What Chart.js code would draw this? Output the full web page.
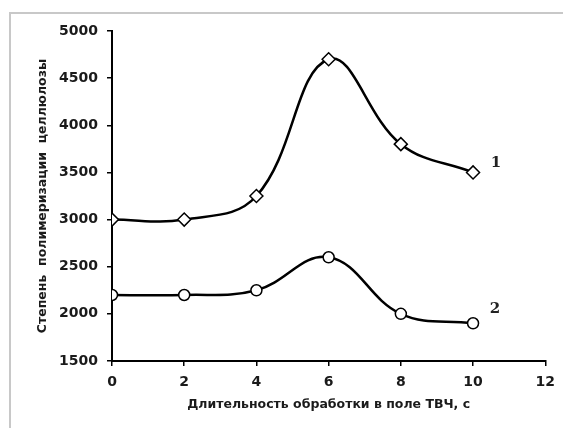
<!DOCTYPE html>
<html><head><meta charset="utf-8">
<script src="https://cdn.jsdelivr.net/npm/chart.js@4"></script>
<style>
html,body{margin:0;padding:0;background:#fff;}
#wrap{position:relative;width:563px;height:428px;}
#frame{position:absolute;left:9px;top:12px;right:0;bottom:0;border-top:2px solid #c8c8c8;border-left:2px solid #c8c8c8;}
canvas{position:absolute;left:0;top:0;}
</style></head>
<body>
<div id="wrap"><div id="frame"></div><canvas id="c" width="563" height="428"></canvas></div>
<script>
const xValues = [0, 2, 4, 6, 8, 10];
const series1 = [3000, 3000, 3250, 4700, 3800, 3500];
const series2 = [2200, 2200, 2250, 2600, 2000, 1900];
const seriesLabels = ['1', '2'];
const xTitle = 'Длительность обработки в поле ТВЧ, с';
const yTitle = 'Степень  полимеризации  целлюлозы';

const toPts = (ys) => ys.map((y, i) => ({x: xValues[i], y}));

const endLabels = {
  id: 'endLabels',
  afterDatasetsDraw(chart) {
    const ctx = chart.ctx;
    ctx.save();
    ctx.font = 'bold 15px "DejaVu Serif"';
    ctx.fillStyle = '#222';
    ctx.textAlign = 'center';
    ctx.textBaseline = 'middle';
    const offs = [[23, -9], [22, -14]];
    chart.data.datasets.forEach((ds, i) => {
      const meta = chart.getDatasetMeta(i);
      const p = meta.data[meta.data.length - 1];
      ctx.fillText(seriesLabels[i], p.x + offs[i][0], p.y + offs[i][1]);
    });
    ctx.restore();
  }
};

const tickFont = {family: '"DejaVu Sans"', size: 14, weight: 'bold'};
const titleFont = {family: '"DejaVu Sans"', size: 12.5, weight: 'bold'};

new Chart(document.getElementById('c'), {
  type: 'line',
  data: {
    datasets: [
      {data: toPts(series1), borderColor: '#000', borderWidth: 2.5, tension: 0.4,
       pointStyle: 'rectRot', pointRadius: 6.5, pointBackgroundColor: '#fff', pointBorderColor: '#000', pointBorderWidth: 1.5},
      {data: toPts(series2), borderColor: '#000', borderWidth: 2.5, tension: 0.4,
       pointStyle: 'circle', pointRadius: 5.5, pointBackgroundColor: '#fff', pointBorderColor: '#000', pointBorderWidth: 1.5}
    ]
  },
  options: {
    responsive: false,
    animation: false,
    events: [],
    layout: {padding: {left: 31, right: 14, top: 31, bottom: 0}},
    plugins: {legend: {display: false}, tooltip: {enabled: false}},
    scales: {
      x: {
        type: 'linear', min: 0, max: 12,
        ticks: {stepSize: 2, color: '#1a1a1a', font: tickFont, padding: 8, callback: v => String(v)},
        grid: {drawOnChartArea: false, tickLength: 5, color: '#000', lineWidth: 1.5},
        border: {color: '#000', width: 2},
        title: {display: true, text: xTitle, color: '#1a1a1a', font: titleFont, padding: {top: 0, bottom: 16}},
        afterFit(s) { s.height = 67; }
      },
      y: {
        min: 1500, max: 5000,
        ticks: {stepSize: 500, color: '#1a1a1a', font: tickFont, padding: 9, callback: v => String(v)},
        grid: {drawOnChartArea: false, tickLength: 5, color: '#000', lineWidth: 1.5},
        border: {color: '#000', width: 2},
        title: {display: true, text: yTitle, color: '#1a1a1a', font: titleFont, padding: {top: 4, bottom: 0}},
        afterFit(s) { s.width = 81; }
      }
    }
  },
  plugins: [endLabels]
});
</script>
</body></html>
